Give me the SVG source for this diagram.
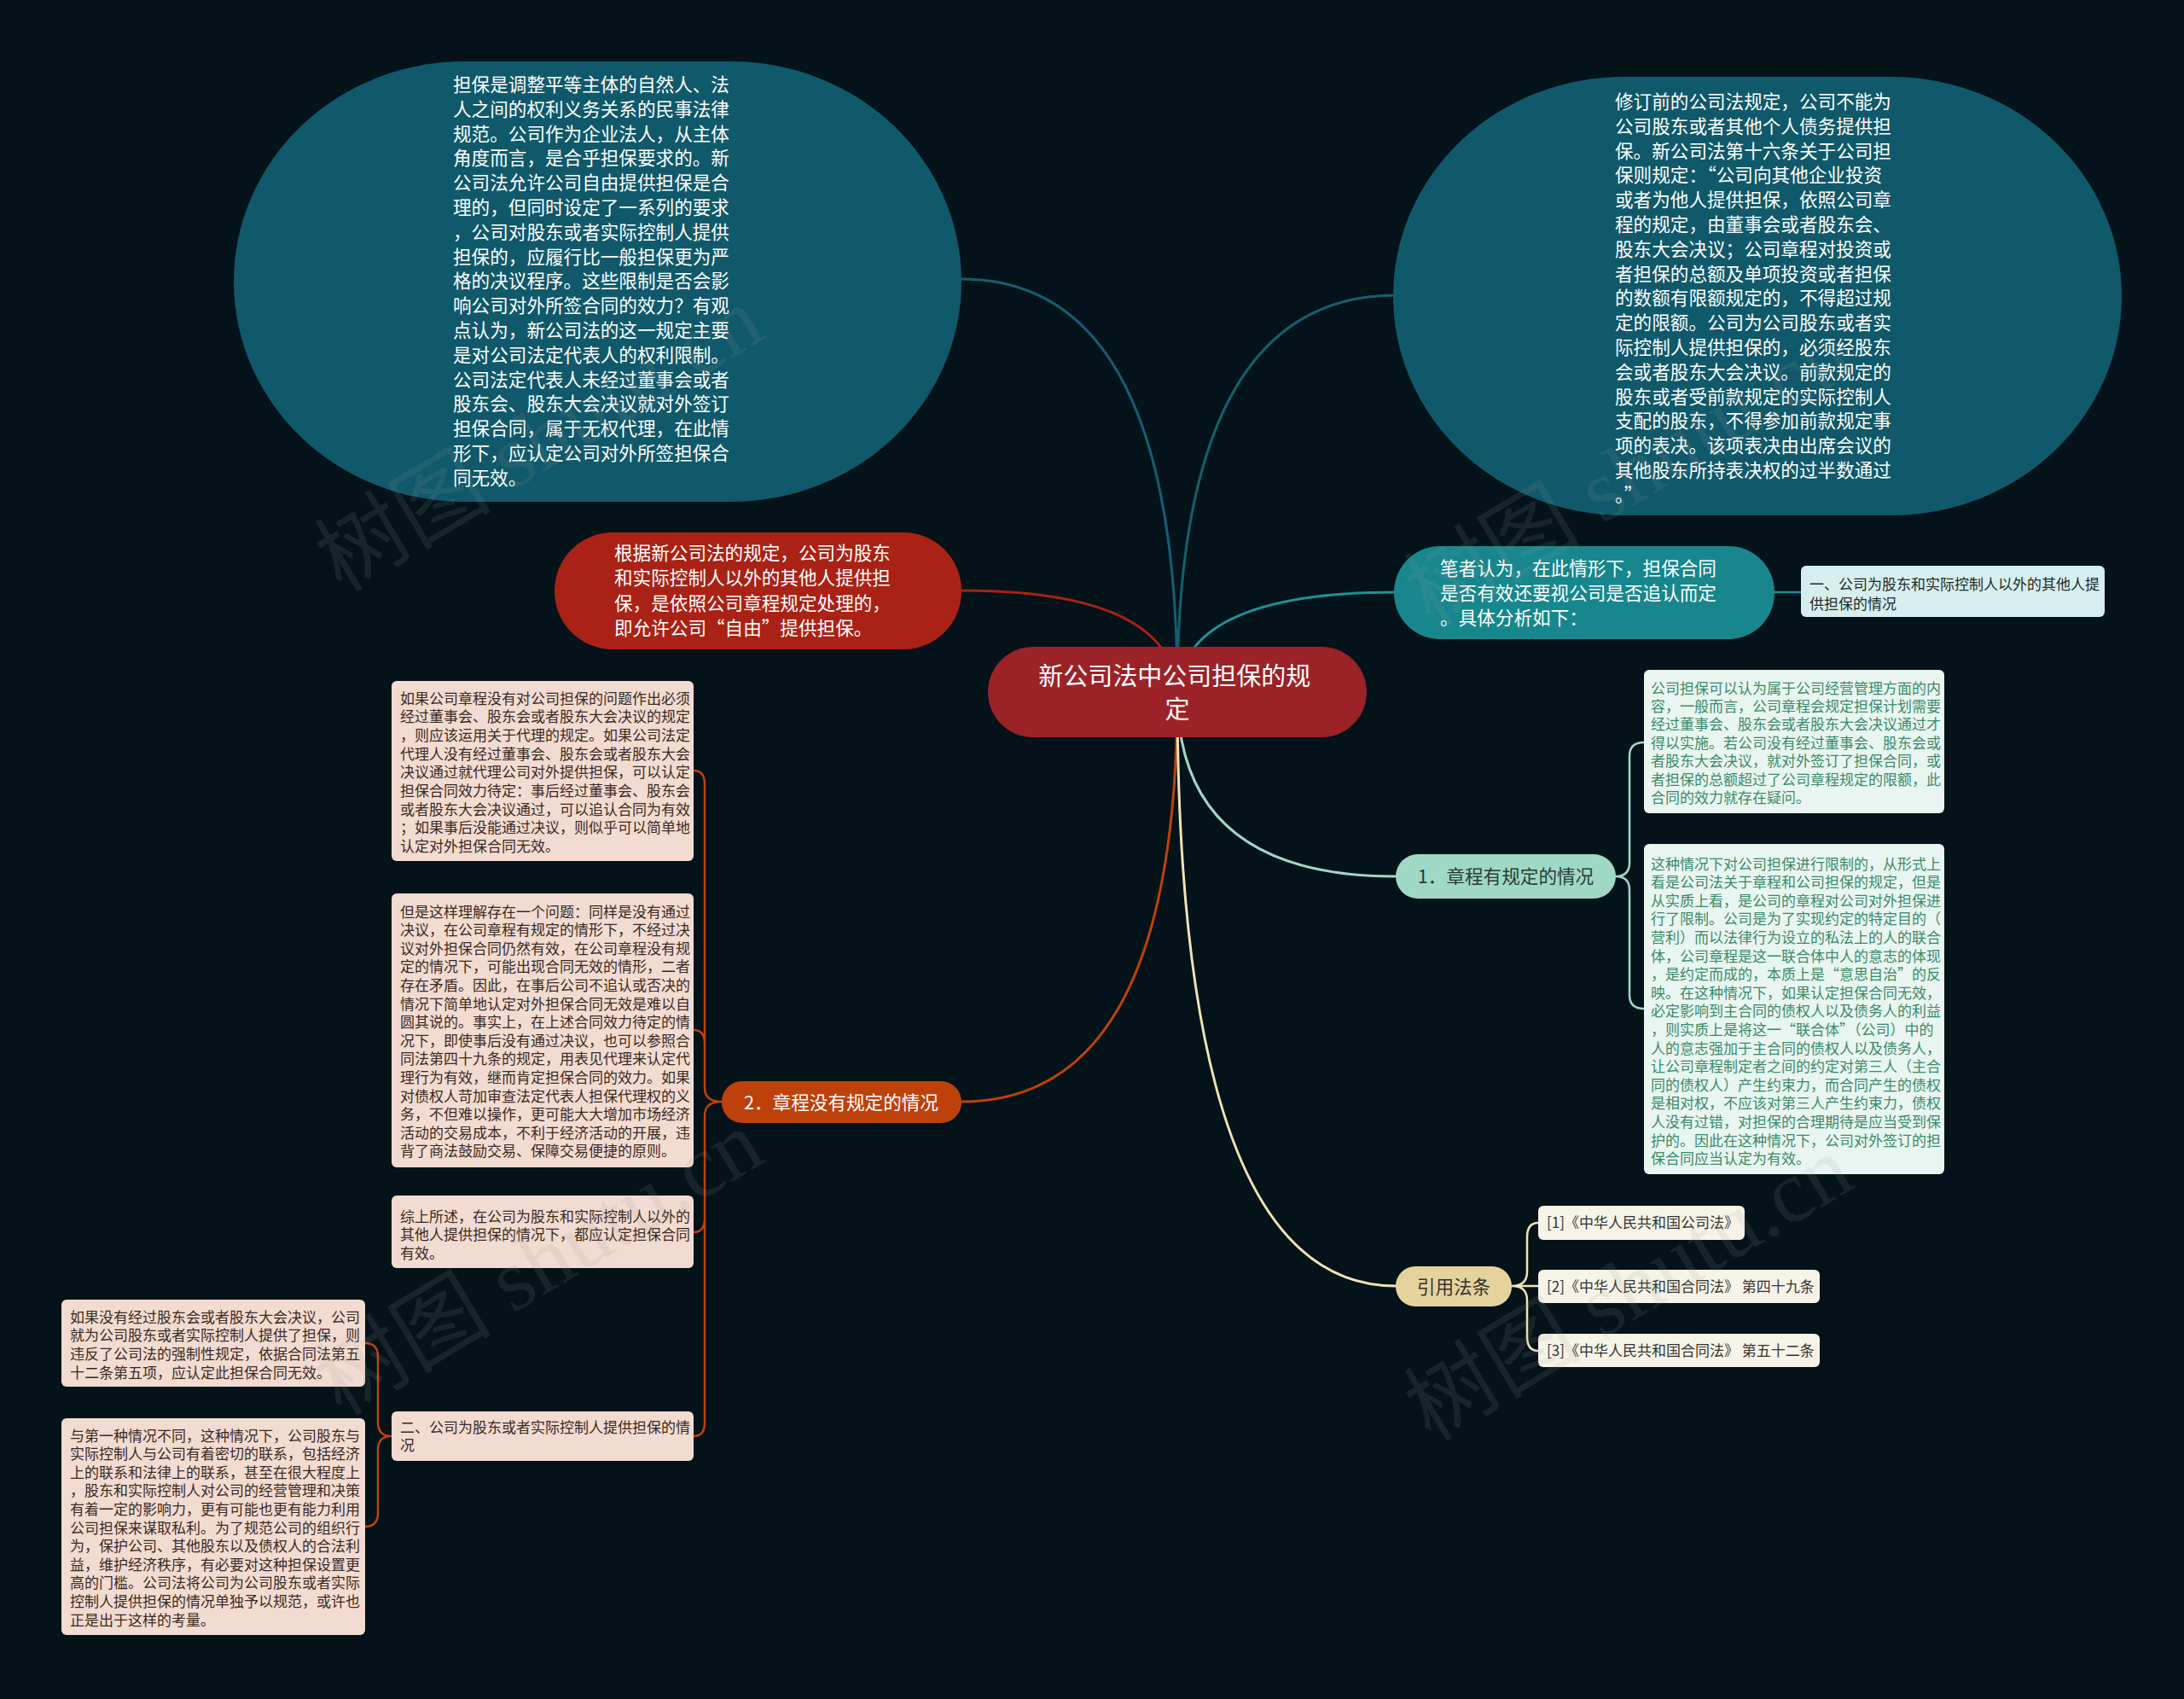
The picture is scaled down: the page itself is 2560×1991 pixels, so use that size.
<svg xmlns="http://www.w3.org/2000/svg" width="2560" height="1991" viewBox="0 0 2560 1991">
<style>
text{font-family:"Noto Sans CJK SC","Noto Sans",sans-serif}
.f22{font-size:21.6px}
.f17{font-size:17px}
.w{fill:#ffffff}
.dk{fill:#2a2a2a}
.gr{fill:#3b8a6c}
.br{fill:#3a2a24}
.ln{fill:none;stroke-width:3;stroke-linecap:round}
.bk{fill:none;stroke-width:2.5;stroke-linecap:round}
.wm{font-family:"Liberation Serif","Noto Sans CJK SC",serif;font-size:104px;fill:#9a9a9a;opacity:0.13}
</style>
<rect x="0" y="0" width="2560" height="1991" fill="#04121a"/>

<g id="connectors">
<path class="ln" stroke="#13606f" d="M1380,811 Q1380,327 1127,327"/>
<path class="ln" stroke="#13606f" d="M1380,811 Q1380,346 1636,346"/>
<path class="ln" stroke="#a92215" d="M1380,811 Q1372,692 1127,692"/>
<path class="ln" stroke="#1f9197" d="M1380,811 Q1388,694 1636,694"/>
<path class="ln" stroke="#9fd8c4" d="M1380,811 Q1380,1027 1636,1027"/>
<path class="ln" stroke="#bd410b" d="M1380,811 Q1380,1291 1127,1291"/>
<path class="ln" stroke="#efe3b5" d="M1380,811 Q1380,1507 1636,1507"/>
<path class="bk" stroke="#1f9197" d="M2080,694 L2111,694"/>
<path class="bk" stroke="#9fd8c4" d="M1894,1027 Q1910,1027 1910,1011 L1910,886 Q1910,870 1927,870 M1894,1027 Q1910,1027 1910,1043 L1910,1166 Q1910,1182 1927,1182"/>
<path class="bk" stroke="#efe3b5" d="M1772,1507 L1803,1507 M1772,1507 Q1790,1507 1790,1490 L1790,1450 Q1790,1433 1803,1433 M1772,1507 Q1790,1507 1790,1524 L1790,1566 Q1790,1583 1803,1583"/>
<path class="bk" stroke="#bd410b" d="M846,1291 Q826,1291 826,1275 L826,919 Q826,903 813,903 M826,1275 L826,1223 Q826,1207 813,1207 M846,1291 Q826,1291 826,1307 L826,1428 Q826,1444 813,1444 M826,1428 L826,1667 Q826,1683 813,1683"/>
<path class="bk" stroke="#bd410b" d="M459,1683 Q443,1683 443,1667 L443,1590 Q443,1574 428,1574 M459,1683 Q443,1683 443,1699 L443,1773 Q443,1789 428,1789"/>
</g>

<g id="n-tl">
<rect x="274" y="72" width="853" height="516" rx="270" ry="258" fill="#10596a"/>
<text class="f22 w">
<tspan x="531" y="107">担保是调整平等主体的自然人、法</tspan>
<tspan x="531" y="135.8">人之间的权利义务关系的民事法律</tspan>
<tspan x="531" y="164.6">规范。公司作为企业法人，从主体</tspan>
<tspan x="531" y="193.4">角度而言，是合乎担保要求的。新</tspan>
<tspan x="531" y="222.2">公司法允许公司自由提供担保是合</tspan>
<tspan x="531" y="251">理的，但同时设定了一系列的要求</tspan>
<tspan x="531" y="279.8">，公司对股东或者实际控制人提供</tspan>
<tspan x="531" y="308.6">担保的，应履行比一般担保更为严</tspan>
<tspan x="531" y="337.4">格的决议程序。这些限制是否会影</tspan>
<tspan x="531" y="366.2">响公司对外所签合同的效力？有观</tspan>
<tspan x="531" y="395">点认为，新公司法的这一规定主要</tspan>
<tspan x="531" y="423.8">是对公司法定代表人的权利限制。</tspan>
<tspan x="531" y="452.6">公司法定代表人未经过董事会或者</tspan>
<tspan x="531" y="481.4">股东会、股东大会决议就对外签订</tspan>
<tspan x="531" y="510.2">担保合同，属于无权代理，在此情</tspan>
<tspan x="531" y="539">形下，应认定公司对外所签担保合</tspan>
<tspan x="531" y="567.8">同无效。</tspan>
</text>
</g>

<g id="n-tr">
<rect x="1633" y="90" width="854" height="514" rx="270" ry="257" fill="#10596a"/>
<text class="f22 w">
<tspan x="1893" y="127">修订前的公司法规定，公司不能为</tspan>
<tspan x="1893" y="155.8">公司股东或者其他个人债务提供担</tspan>
<tspan x="1893" y="184.6">保。新公司法第十六条关于公司担</tspan>
<tspan x="1893" y="213.4">保则规定：“公司向其他企业投资</tspan>
<tspan x="1893" y="242.2">或者为他人提供担保，依照公司章</tspan>
<tspan x="1893" y="271">程的规定，由董事会或者股东会、</tspan>
<tspan x="1893" y="299.8">股东大会决议；公司章程对投资或</tspan>
<tspan x="1893" y="328.6">者担保的总额及单项投资或者担保</tspan>
<tspan x="1893" y="357.4">的数额有限额规定的，不得超过规</tspan>
<tspan x="1893" y="386.2">定的限额。公司为公司股东或者实</tspan>
<tspan x="1893" y="415">际控制人提供担保的，必须经股东</tspan>
<tspan x="1893" y="443.8">会或者股东大会决议。前款规定的</tspan>
<tspan x="1893" y="472.6">股东或者受前款规定的实际控制人</tspan>
<tspan x="1893" y="501.4">支配的股东，不得参加前款规定事</tspan>
<tspan x="1893" y="530.2">项的表决。该项表决由出席会议的</tspan>
<tspan x="1893" y="559">其他股东所持表决权的过半数通过</tspan>
<tspan x="1893" y="587.8">。”</tspan>
</text>
</g>

<g id="n-red">
<rect x="650" y="624" width="477" height="137" rx="68" fill="#a92215"/>
<text class="f22 w">
<tspan x="720" y="656">根据新公司法的规定，公司为股东</tspan>
<tspan x="720" y="685.3">和实际控制人以外的其他人提供担</tspan>
<tspan x="720" y="714.6">保，是依照公司章程规定处理的，</tspan>
<tspan x="720" y="743.9">即允许公司“自由”提供担保。</tspan>
</text>
</g>

<g id="n-center">
<rect x="1158" y="758" width="444" height="106" rx="53" fill="#9b2328"/>
<text style="font-size:29px" class="w" text-anchor="middle">
<tspan x="1380" y="803">新公司法中公司担保的规</tspan>
<tspan x="1380" y="842">定</tspan>
</text>
</g>

<g id="n-teal">
<rect x="1634" y="640" width="446" height="109" rx="54" fill="#17878d"/>
<text class="f22 w">
<tspan x="1688" y="674">笔者认为，在此情形下，担保合同</tspan>
<tspan x="1688" y="702.8">是否有效还要视公司是否追认而定</tspan>
<tspan x="1688" y="731.6">。具体分析如下：</tspan>
</text>
</g>

<g id="n-sub1">
<rect x="2111" y="663" width="356" height="60" rx="6" fill="#d7eeee"/>
<text class="f17" fill="#1e2a2a">
<tspan x="2121" y="690.5">一、公司为股东和实际控制人以外的其他人提</tspan>
<tspan x="2121" y="713.5">供担保的情况</tspan>
</text>
</g>

<g id="n-rule1">
<rect x="1636" y="1001" width="258" height="52" rx="26" fill="#9fd8c4"/>
<text class="f22" fill="#2b3b3b" text-anchor="middle" x="1765" y="1035">1．章程有规定的情况</text>
</g>

<g id="n-r1">
<rect x="1927" y="785" width="352" height="168" rx="6" fill="#e9f5f0"/>
<text class="f17 gr">
<tspan x="1935" y="812.5">公司担保可以认为属于公司经营管理方面的内</tspan>
<tspan x="1935" y="833.9">容，一般而言，公司章程会规定担保计划需要</tspan>
<tspan x="1935" y="855.3">经过董事会、股东会或者股东大会决议通过才</tspan>
<tspan x="1935" y="876.7">得以实施。若公司没有经过董事会、股东会或</tspan>
<tspan x="1935" y="898.1">者股东大会决议，就对外签订了担保合同，或</tspan>
<tspan x="1935" y="919.5">者担保的总额超过了公司章程规定的限额，此</tspan>
<tspan x="1935" y="940.9">合同的效力就存在疑问。</tspan>
</text>
</g>

<g id="n-r2">
<rect x="1927" y="989" width="352" height="387" rx="6" fill="#e9f5f0"/>
<text class="f17 gr">
<tspan x="1935" y="1018.5">这种情况下对公司担保进行限制的，从形式上</tspan>
<tspan x="1935" y="1040.1">看是公司法关于章程和公司担保的规定，但是</tspan>
<tspan x="1935" y="1061.7">从实质上看，是公司的章程对公司对外担保进</tspan>
<tspan x="1935" y="1083.3">行了限制。公司是为了实现约定的特定目的（</tspan>
<tspan x="1935" y="1104.9">营利）而以法律行为设立的私法上的人的联合</tspan>
<tspan x="1935" y="1126.5">体，公司章程是这一联合体中人的意志的体现</tspan>
<tspan x="1935" y="1148.1">，是约定而成的，本质上是“意思自治”的反</tspan>
<tspan x="1935" y="1169.7">映。在这种情况下，如果认定担保合同无效，</tspan>
<tspan x="1935" y="1191.3">必定影响到主合同的债权人以及债务人的利益</tspan>
<tspan x="1935" y="1212.9">，则实质上是将这一“联合体”（公司）中的</tspan>
<tspan x="1935" y="1234.5">人的意志强加于主合同的债权人以及债务人，</tspan>
<tspan x="1935" y="1256.1">让公司章程制定者之间的约定对第三人（主合</tspan>
<tspan x="1935" y="1277.7">同的债权人）产生约束力，而合同产生的债权</tspan>
<tspan x="1935" y="1299.3">是相对权，不应该对第三人产生约束力，债权</tspan>
<tspan x="1935" y="1320.9">人没有过错，对担保的合理期待是应当受到保</tspan>
<tspan x="1935" y="1342.5">护的。因此在这种情况下，公司对外签订的担</tspan>
<tspan x="1935" y="1364.1">保合同应当认定为有效。</tspan>
</text>
</g>

<g id="n-cite">
<rect x="1636" y="1484" width="136" height="47" rx="23" fill="#e6d39c"/>
<text class="f22" fill="#333333" text-anchor="middle" x="1704" y="1515.5">引用法条</text>
</g>
<g id="n-cite1">
<rect x="1803" y="1413" width="242" height="40" rx="6" fill="#f7f3e8"/>
<text class="f17" fill="#333333" x="1813" y="1439">[1]《中华人民共和国公司法》</text>
</g>
<g id="n-cite2">
<rect x="1803" y="1488" width="330" height="39" rx="6" fill="#f7f3e8"/>
<text class="f17" fill="#333333" x="1813" y="1514">[2]《中华人民共和国合同法》 第四十九条</text>
</g>
<g id="n-cite3">
<rect x="1803" y="1563" width="330" height="39" rx="6" fill="#f7f3e8"/>
<text class="f17" fill="#333333" x="1813" y="1589">[3]《中华人民共和国合同法》 第五十二条</text>
</g>

<g id="n-rule2">
<rect x="846" y="1267" width="281" height="49" rx="24" fill="#bd410b"/>
<text class="f22 w" text-anchor="middle" x="986" y="1299.5">2．章程没有规定的情况</text>
</g>

<g id="n-l1">
<rect x="459" y="798" width="354" height="211" rx="6" fill="#f2dbd0"/>
<text class="f17 br">
<tspan x="469" y="824.5">如果公司章程没有对公司担保的问题作出必须</tspan>
<tspan x="469" y="846.2">经过董事会、股东会或者股东大会决议的规定</tspan>
<tspan x="469" y="867.9">，则应该运用关于代理的规定。如果公司法定</tspan>
<tspan x="469" y="889.6">代理人没有经过董事会、股东会或者股东大会</tspan>
<tspan x="469" y="911.3">决议通过就代理公司对外提供担保，可以认定</tspan>
<tspan x="469" y="933">担保合同效力待定：事后经过董事会、股东会</tspan>
<tspan x="469" y="954.7">或者股东大会决议通过，可以追认合同为有效</tspan>
<tspan x="469" y="976.4">；如果事后没能通过决议，则似乎可以简单地</tspan>
<tspan x="469" y="998.1">认定对外担保合同无效。</tspan>
</text>
</g>

<g id="n-l2">
<rect x="459" y="1047" width="354" height="321" rx="6" fill="#f2dbd0"/>
<text class="f17 br">
<tspan x="469" y="1074.5">但是这样理解存在一个问题：同样是没有通过</tspan>
<tspan x="469" y="1096.1">决议，在公司章程有规定的情形下，不经过决</tspan>
<tspan x="469" y="1117.7">议对外担保合同仍然有效，在公司章程没有规</tspan>
<tspan x="469" y="1139.3">定的情况下，可能出现合同无效的情形，二者</tspan>
<tspan x="469" y="1160.9">存在矛盾。因此，在事后公司不追认或否决的</tspan>
<tspan x="469" y="1182.5">情况下简单地认定对外担保合同无效是难以自</tspan>
<tspan x="469" y="1204.1">圆其说的。事实上，在上述合同效力待定的情</tspan>
<tspan x="469" y="1225.7">况下，即使事后没有通过决议，也可以参照合</tspan>
<tspan x="469" y="1247.3">同法第四十九条的规定，用表见代理来认定代</tspan>
<tspan x="469" y="1268.9">理行为有效，继而肯定担保合同的效力。如果</tspan>
<tspan x="469" y="1290.5">对债权人苛加审查法定代表人担保代理权的义</tspan>
<tspan x="469" y="1312.1">务，不但难以操作，更可能大大增加市场经济</tspan>
<tspan x="469" y="1333.7">活动的交易成本，不利于经济活动的开展，违</tspan>
<tspan x="469" y="1355.3">背了商法鼓励交易、保障交易便捷的原则。</tspan>
</text>
</g>

<g id="n-l3">
<rect x="459" y="1401" width="354" height="85" rx="6" fill="#f2dbd0"/>
<text class="f17 br">
<tspan x="469" y="1431.5">综上所述，在公司为股东和实际控制人以外的</tspan>
<tspan x="469" y="1453.1">其他人提供担保的情况下，都应认定担保合同</tspan>
<tspan x="469" y="1474.7">有效。</tspan>
</text>
</g>

<g id="n-l4">
<rect x="459" y="1654" width="354" height="58" rx="6" fill="#f2dbd0"/>
<text class="f17 br">
<tspan x="469" y="1678.5">二、公司为股东或者实际控制人提供担保的情</tspan>
<tspan x="469" y="1700.1">况</tspan>
</text>
</g>

<g id="n-fl1">
<rect x="72" y="1523" width="356" height="102" rx="6" fill="#f2dbd0"/>
<text class="f17 br">
<tspan x="82" y="1549.5">如果没有经过股东会或者股东大会决议，公司</tspan>
<tspan x="82" y="1571.2">就为公司股东或者实际控制人提供了担保，则</tspan>
<tspan x="82" y="1592.9">违反了公司法的强制性规定，依据合同法第五</tspan>
<tspan x="82" y="1614.6">十二条第五项，应认定此担保合同无效。</tspan>
</text>
</g>

<g id="n-fl2">
<rect x="72" y="1662" width="356" height="254" rx="6" fill="#f2dbd0"/>
<text class="f17 br">
<tspan x="82" y="1688.5">与第一种情况不同，这种情况下，公司股东与</tspan>
<tspan x="82" y="1710.1">实际控制人与公司有着密切的联系，包括经济</tspan>
<tspan x="82" y="1731.7">上的联系和法律上的联系，甚至在很大程度上</tspan>
<tspan x="82" y="1753.3">，股东和实际控制人对公司的经营管理和决策</tspan>
<tspan x="82" y="1774.9">有着一定的影响力，更有可能也更有能力利用</tspan>
<tspan x="82" y="1796.5">公司担保来谋取私利。为了规范公司的组织行</tspan>
<tspan x="82" y="1818.1">为，保护公司、其他股东以及债权人的合法利</tspan>
<tspan x="82" y="1839.7">益，维护经济秩序，有必要对这种担保设置更</tspan>
<tspan x="82" y="1861.3">高的门槛。公司法将公司为公司股东或者实际</tspan>
<tspan x="82" y="1882.9">控制人提供担保的情况单独予以规范，或许也</tspan>
<tspan x="82" y="1904.5">正是出于这样的考量。</tspan>
</text>
</g>

<g id="watermarks">
<text class="wm" text-anchor="middle" transform="translate(650,545) rotate(-31)">树图 shutu.cn</text>
<text class="wm" text-anchor="middle" transform="translate(1927,585) rotate(-31)">树图 shutu.cn</text>
<text class="wm" text-anchor="middle" transform="translate(650,1510) rotate(-31)">树图 shutu.cn</text>
<text class="wm" text-anchor="middle" transform="translate(1927,1540) rotate(-31)">树图 shutu.cn</text>
</g>
</svg>
